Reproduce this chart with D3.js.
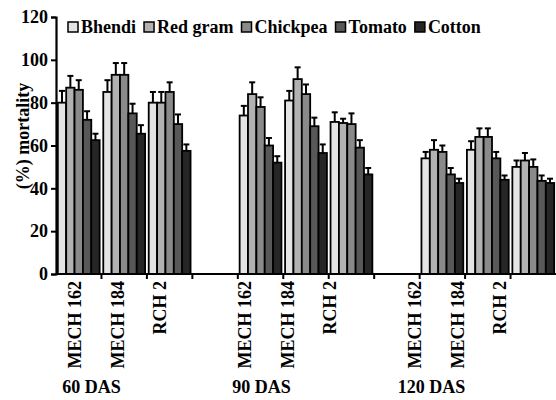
<!DOCTYPE html>
<html>
<head>
<meta charset="utf-8">
<script src="https://cdn.jsdelivr.net/npm/d3@7"></script>
<style>
  body { margin: 0; background: #fff; }
  svg text { font-family: "Liberation Serif", "Times New Roman", Times, serif !important; font-weight: bold; font-size: 18px; fill: #000; }
</style>
</head>
<body>
<script>
// chart data
var stages = ["60 DAS", "90 DAS", "120 DAS"];
var hybrids = ["MECH 162", "MECH 184", "RCH 2"];
var series = ["Bhendi", "Red gram", "Chickpea", "Tomato", "Cotton"];
var yTicks = [0, 20, 40, 60, 80, 100, 120];

// mortality values, order: 60 DAS (MECH 162, MECH 184, RCH 2), 90 DAS (...), 120 DAS (...)
var bhendi   = [80, 85, 80, 74, 81, 71, 54, 58, 50];
var redGram  = [87, 93, 80, 84, 91, 70.5, 58, 64, 53];
var chickpea = [86, 93, 85, 78, 84, 70, 57, 64, 50];
var tomato   = [72, 75, 70, 60, 69, 59, 46.5, 54, 43.5];
var cotton   = [62.5, 65.5, 57.5, 52, 56.5, 46.5, 42.5, 44, 42.5];

// standard errors (upper bars only)
var bhendiErr   = [5.5, 5.5, 5, 4.5, 4.5, 4.5, 3, 4, 3];
var redGramErr  = [5.5, 5.5, 5, 5.5, 5.5, 2, 4.5, 4, 3.5];
var chickpeaErr = [4.5, 5.5, 4.5, 4.5, 4.5, 5, 3, 4, 3.5];
var tomatoErr   = [4, 4.5, 4.5, 3.5, 4, 3.5, 3, 3, 2.5];
var cottonErr   = [3, 4, 3, 3, 4, 3, 2, 2, 2];

var colors = ["#e4e4e4", "#b2b2b2", "#8a8a8a", "#585858", "#262626"];

var FONT = "Liberation Serif";

function main() {
    var width = 556, height = 400;
    var svg = d3.select("body").append("svg")
        .attr("width", width)
        .attr("height", height)
        .attr("font-family", FONT);

    // category slots: 3 hybrids per stage, one empty slot between stages
    var slots = [];
    stages.forEach(function (s, i) {
        hybrids.forEach(function (h) { slots.push(s + "|" + h); });
        if (i < stages.length - 1) slots.push("gap" + i);
    });

    var valueArrays = [bhendi, redGram, chickpea, tomato, cotton];
    var errArrays = [bhendiErr, redGramErr, chickpeaErr, tomatoErr, cottonErr];

    // build a flat table of bars
    var table = [];
    var k = 0;
    stages.forEach(function (s) {
        hybrids.forEach(function (h) {
            series.forEach(function (name, j) {
                table.push({ slot: s + "|" + h, series: name, value: valueArrays[j][k], err: errArrays[j][k], color: colors[j] });
            });
            k++;
        });
    });

    var x = d3.scaleBand().domain(slots).range([56, 556]).paddingInner(0.08).paddingOuter(0.04);
    var xs = d3.scaleBand().domain(series).range([0, x.bandwidth()]);
    var y = d3.scaleLinear().domain([0, 120]).range([274, 17]);
    // labels in the original sit on a slightly compressed spacing
    var xLab = d3.scalePoint().domain(slots).range([75, 500]);

    // bars
    svg.append("g").selectAll("rect")
        .data(table)
        .join("rect")
        .attr("x", function (d) { return x(d.slot) + xs(d.series); })
        .attr("y", function (d) { return y(d.value); })
        .attr("width", xs.bandwidth())
        .attr("height", function (d) { return y(0) - y(d.value); })
        .attr("fill", function (d) { return d.color; })
        .attr("stroke", "#000")
        .attr("stroke-width", 1.8);

    // error bars
    var eb = svg.append("g").attr("stroke", "#000").attr("stroke-width", 2);
    eb.selectAll("line.v")
        .data(table)
        .join("line")
        .attr("class", "v")
        .attr("x1", function (d) { return x(d.slot) + xs(d.series) + xs.bandwidth() / 2; })
        .attr("x2", function (d) { return x(d.slot) + xs(d.series) + xs.bandwidth() / 2; })
        .attr("y1", function (d) { return y(d.value); })
        .attr("y2", function (d) { return y(d.value + d.err); });
    eb.selectAll("line.c")
        .data(table)
        .join("line")
        .attr("class", "c")
        .attr("x1", function (d) { return x(d.slot) + xs(d.series) + xs.bandwidth() / 2 - 3; })
        .attr("x2", function (d) { return x(d.slot) + xs(d.series) + xs.bandwidth() / 2 + 3; })
        .attr("y1", function (d) { return y(d.value + d.err); })
        .attr("y2", function (d) { return y(d.value + d.err); });

    // y axis
    var yAxis = svg.append("g")
        .attr("transform", "translate(56,0)")
        .call(d3.axisLeft(y).tickValues(yTicks).tickSize(5).tickPadding(3));
    yAxis.attr("font-family", FONT).attr("font-size", 18);
    yAxis.select(".domain").attr("stroke-width", 2.2);
    yAxis.selectAll(".tick line").attr("stroke-width", 2);

    // x axis line and ticks at slot boundaries
    svg.append("line")
        .attr("x1", 56).attr("x2", 556)
        .attr("y1", y(0)).attr("y2", y(0))
        .attr("stroke", "#000").attr("stroke-width", 2.2);
    svg.append("g").selectAll("line")
        .data(d3.range(1, slots.length))
        .join("line")
        .attr("x1", function (i) { return 56 + i * x.step(); })
        .attr("x2", function (i) { return 56 + i * x.step(); })
        .attr("y1", y(0)).attr("y2", y(0) + 5)
        .attr("stroke", "#000").attr("stroke-width", 2);

    // hybrid labels
    svg.append("g").selectAll("text")
        .data(slots.filter(function (s) { return s.indexOf("|") > 0; }))
        .join("text")
        .attr("transform", function (s) { return "translate(" + xLab(s) + ",281) rotate(-90)"; })
        .attr("dy", "0.35em")
        .attr("text-anchor", "end")
        .text(function (s) { return s.split("|")[1]; });

    // stage labels
    svg.append("g").selectAll("text")
        .data(stages)
        .join("text")
        .attr("x", function (s) { return xLab(s + "|" + hybrids[1]) - 26; })
        .attr("y", 393)
        .attr("text-anchor", "middle")
        .text(function (s) { return s; });

    // y title
    svg.append("text")
        .attr("transform", "translate(29,136) rotate(-90)")
        .attr("text-anchor", "middle")
        .text("(%) mortality");

    // legend
    var lx = 68;
    series.forEach(function (name, j) {
        svg.append("rect")
            .attr("x", lx).attr("y", 22)
            .attr("width", 10).attr("height", 10)
            .attr("fill", colors[j])
            .attr("stroke", "#000").attr("stroke-width", 1.5);
        var t = svg.append("text")
            .attr("x", lx + 13).attr("y", 33)
            .text(name);
        lx += 13 + t.node().getComputedTextLength() + 8;
    });
}

window.onload = main;
</script>
</body>
</html>
